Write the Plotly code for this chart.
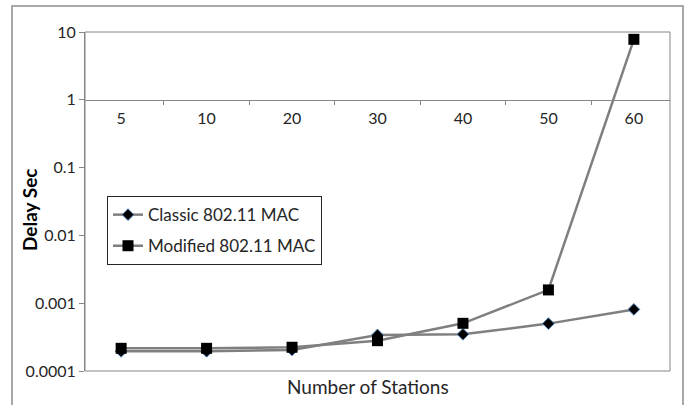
import plotly.graph_objects as go

stations = ["5", "10", "20", "30", "40", "50", "60"]
classic = [0.000195, 0.000195, 0.000204, 0.00034, 0.000348, 0.0005, 0.00081]
modified = [0.000216, 0.000216, 0.000224, 0.00028, 0.000505, 0.00157, 7.8]
y_ticks = [0.0001, 0.001, 0.01, 0.1, 1, 10]
y_tick_text = ["0.0001", "0.001", "0.01", "0.1", "1", "10"]

FONT = "Lato"
GRAY = "#868686"

fig = go.Figure()
fig.add_trace(go.Scatter(
    x=stations, y=classic, name="Classic 802.11 MAC", mode="lines+markers",
    line=dict(color="#7f7f7f", width=2.5),
    marker=dict(symbol="diamond", size=9, color="black", line=dict(color="#4f81bd", width=1)),
    legendgroup="a",
))
fig.add_trace(go.Scatter(
    x=stations, y=modified, name="Modified 802.11 MAC", mode="lines+markers",
    line=dict(color="#7f7f7f", width=2.5),
    marker=dict(symbol="square", size=11, color="black", line=dict(color="black", width=0)),
    legendgroup="b",
))

fig.update_layout(
    width=688, height=405,
    margin=dict(l=85, r=18, t=32, b=34),
    paper_bgcolor="white", plot_bgcolor="white",
    font=dict(family=FONT, color="#262626"),
    showlegend=True,
    legend=dict(
        x=0.0376, y=0.516, xanchor="left", yanchor="top",
        bordercolor="#262626", borderwidth=1, bgcolor="white",
        font=dict(family=FONT, size=17, color="#262626"),
        traceorder="grouped", tracegroupgap=6,
    ),
    xaxis=dict(
        type="category", anchor="free", position=0.8,
        showline=True, linecolor=GRAY, linewidth=1,
        ticks="outside", ticklen=4, tickcolor=GRAY, tickson="boundaries",
        tickfont=dict(family=FONT, size=16, color="#262626"),
        ticklabelstandoff=4,
        showgrid=False, zeroline=False,
    ),
    yaxis=dict(
        type="log", range=[-4, 1],
        tickvals=y_ticks, ticktext=y_tick_text,
        showline=True, linecolor=GRAY, linewidth=1,
        ticks="outside", ticklen=5, tickcolor=GRAY,
        tickfont=dict(family=FONT, size=16, color="#262626"),
        showgrid=False, zeroline=False,
    ),
    shapes=[
        dict(type="rect", xref="paper", yref="paper", x0=0, x1=1, y0=0, y1=1,
             line=dict(color=GRAY, width=1), layer="below"),
        dict(type="rect", xref="paper", yref="paper", x0=-0.1248, x1=1.0222, y0=-0.25, y1=1.0767,
             line=dict(color="#8c8c8c", width=1.5), layer="above"),
    ],
    annotations=[
        dict(text="Number of Stations", xref="paper", yref="paper", x=0.483, y=-0.047,
             xanchor="center", yanchor="middle", showarrow=False,
             font=dict(family=FONT, size=19, color="#262626")),
        dict(text="<b>Delay Sec</b>", xref="paper", yref="paper", x=-0.094, y=0.475,
             xanchor="center", yanchor="middle", showarrow=False, textangle=-90,
             font=dict(family=FONT, size=19, color="black")),
    ],
)

fig.write_html(
    "out.html",
    config={"displayModeBar": False},
    post_script="document.body.style.margin='0';document.body.style.padding='0';",
)
